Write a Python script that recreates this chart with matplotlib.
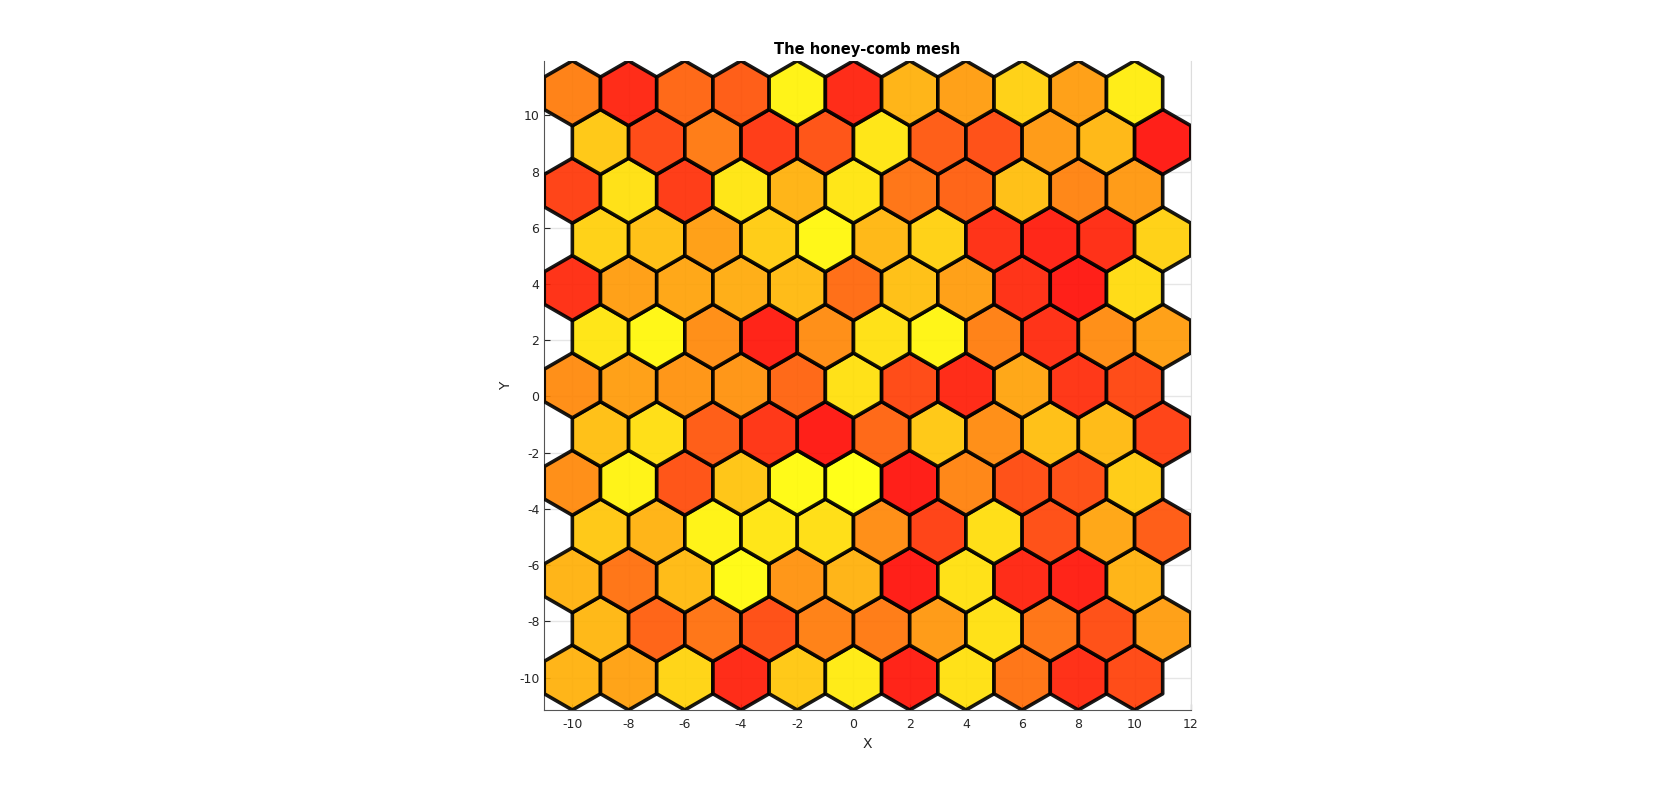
import matplotlib
matplotlib.use("Agg")
import matplotlib.pyplot as plt
import numpy as np
from matplotlib.patches import RegularPolygon
from matplotlib.collections import PatchCollection

plt.rcParams['axes.unicode_minus'] = False

# cell values per row, bottom row first (0 = red, 1 = yellow)
rows = [
    [0.70, 0.63, 0.83, 0.15, 0.78, 0.92, 0.12, 0.88, 0.45, 0.17, 0.28],
    [0.72, 0.38, 0.45, 0.30, 0.50, 0.48, 0.60, 0.88, 0.45, 0.30, 0.62],
    [0.70, 0.45, 0.73, 0.98, 0.58, 0.70, 0.10, 0.88, 0.15, 0.12, 0.70],
    [0.78, 0.70, 0.95, 0.90, 0.87, 0.55, 0.25, 0.87, 0.30, 0.65, 0.35],
    [0.55, 0.95, 0.32, 0.77, 0.98, 1.00, 0.10, 0.52, 0.30, 0.30, 0.80],
    [0.75, 0.87, 0.35, 0.20, 0.10, 0.40, 0.78, 0.55, 0.75, 0.73, 0.25],
    [0.55, 0.62, 0.58, 0.58, 0.40, 0.88, 0.28, 0.15, 0.65, 0.20, 0.28],
    [0.90, 0.97, 0.55, 0.12, 0.55, 0.88, 0.96, 0.50, 0.18, 0.55, 0.62],
    [0.18, 0.62, 0.65, 0.68, 0.73, 0.42, 0.75, 0.62, 0.18, 0.10, 0.86],
    [0.82, 0.75, 0.62, 0.80, 0.97, 0.72, 0.82, 0.18, 0.13, 0.17, 0.82],
    [0.25, 0.88, 0.22, 0.90, 0.70, 0.90, 0.45, 0.38, 0.75, 0.52, 0.60],
    [0.78, 0.28, 0.48, 0.22, 0.32, 0.90, 0.35, 0.30, 0.60, 0.72, 0.10],
    [0.50, 0.15, 0.40, 0.35, 0.95, 0.15, 0.70, 0.62, 0.82, 0.62, 0.93],
]

x_even = np.arange(-10, 11, 2)   # rows 0, 2, 4 ...
x_odd = np.arange(-9, 12, 2)     # rows 1, 3, 5 ...
y0 = -10
dy = np.sqrt(3)
r = 2 / np.sqrt(3)

patches = []
vals = []
for i, row in enumerate(rows):
    xs = x_even if i % 2 == 0 else x_odd
    y = y0 + i * dy
    for x, v in zip(xs, row):
        patches.append(RegularPolygon((x, y), numVertices=6, radius=r, orientation=0))
        vals.append(v)

fig = plt.figure(figsize=(16.78, 8), dpi=100)
ax = fig.add_axes([0.324, 0.1125, 0.386, 0.8115])

pc = PatchCollection(patches, cmap='autumn', alpha=0.9, edgecolor='black', linewidth=2.6, zorder=3)
pc.set_array(np.array(vals))
pc.set_clim(0.07, 1)
ax.add_collection(pc)

ax.set_xlim(-11, 12)
ax.set_ylim(y0 - r, y0 + 12 * dy + r)
ax.set_aspect('equal')
ax.set_xticks(np.arange(-10, 13, 2))
ax.set_yticks(np.arange(-10, 11, 2))
ax.grid(True, color='#e6e6e6', linewidth=1, zorder=0)
ax.set_axisbelow(True)
ax.tick_params(direction='in', labelsize=9, colors='#262626', length=4)
ax.tick_params(axis='x', pad=6)
for s in ['left', 'bottom']:
    ax.spines[s].set_color('#555555')
ax.spines['right'].set_color('#dddddd')
ax.spines['top'].set_visible(False)

ax.set_xlabel('X', fontsize=10, color='#262626')
ax.set_ylabel('Y', fontsize=10, color='#262626')
ax.set_title('The honey-comb mesh', fontsize=10.5, fontweight='bold', pad=5)

fig.savefig('out.png', dpi=100)
